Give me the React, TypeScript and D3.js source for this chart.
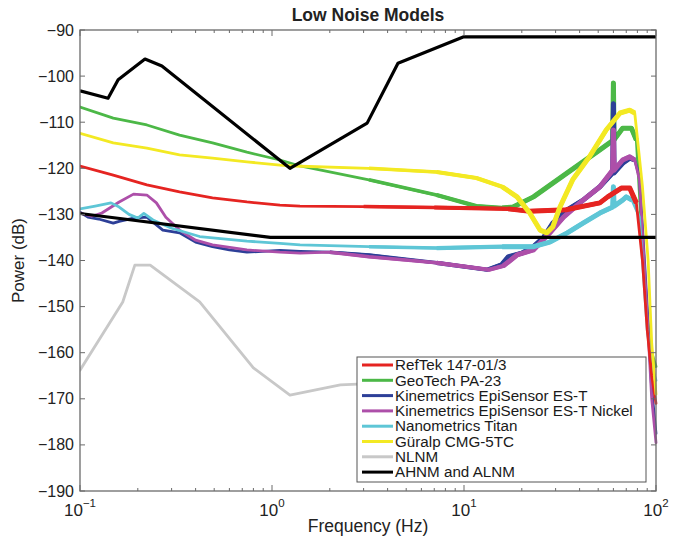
import * as d3 from "d3";

type Pt = [number, number]; // [frequency Hz, power dB]

const refTek: Pt[] = [
  [0.1, -119.5], [0.149, -121.5], [0.223, -123.6], [0.33, -125.1], [0.49, -126.4],
  [0.74, -127.3], [1.1, -128], [1.4, -128.2], [3, -128.3], [7, -128.5], [17, -128.8],
  [22, -129.3], [34, -129], [51, -127.5], [56, -126.2], [66, -124.3], [73, -124.3],
  [79, -127.5], [85, -140], [90, -155], [95, -165], [100, -171],
];

const geoTech: Pt[] = [
  [0.1, -106.7], [0.149, -109.1], [0.223, -110.6], [0.33, -112.8], [0.49, -114.5],
  [0.74, -116.5], [1.1, -118.2], [1.4, -119.5], [3.2, -122.5], [7.2, -125.8],
  [11.6, -128.2], [15.8, -128.6], [18, -128.4], [23, -126.2], [34.5, -121], [51, -116],
  [59.5, -114], [60, -101.5], [60.5, -113.8], [67, -111.3], [74.5, -111.3], [79, -113.9],
  [85, -137], [90, -152], [95, -160], [100, -163],
];

const episensor: Pt[] = [
  [0.1, -129.5], [0.11, -130.6], [0.125, -131], [0.149, -131.9], [0.16, -131.5],
  [0.19, -130.8], [0.223, -130.6], [0.27, -133.4], [0.33, -134], [0.4, -136], [0.49, -137],
  [0.6, -137.7], [0.74, -138.2], [1.1, -137.8], [1.4, -138], [2, -138.2], [3.2, -138.8],
  [7.2, -140.5], [13.2, -142], [15.8, -140.8], [17, -139.2], [20, -138.4], [23, -137],
  [26, -135], [29, -131.9], [34.5, -129], [41.7, -126.9], [51, -124], [59.5, -121],
  [60, -106], [60.5, -121], [67, -118.9], [73, -117.8], [77.5, -118.2], [82, -121.9],
  [85, -132.7], [90, -150], [95, -168], [100, -177.5],
];

const episensorNickel: Pt[] = [
  [0.1, -129.7], [0.115, -130.4], [0.13, -129.7], [0.16, -127.3], [0.19, -125.6],
  [0.223, -125.8], [0.25, -127.5], [0.28, -130.6], [0.33, -133.4], [0.4, -135.6],
  [0.49, -136.6], [0.74, -137.7], [1.1, -138.2], [1.4, -138.4], [2, -138.2], [3.2, -139.2],
  [7.2, -140.5], [13.5, -142], [16, -141.2], [18.9, -138.8], [23, -137.7], [28, -134],
  [33, -130.6], [41.7, -126.9], [51, -124], [59.5, -120.4], [60, -111.7], [60.5, -120.4],
  [67, -118.2], [73, -117.5], [77.5, -118.2], [82, -122.5], [85, -134], [90, -152],
  [95, -170], [100, -179.5],
];

const titan: Pt[] = [
  [0.1, -128.8], [0.12, -128.2], [0.145, -127.5], [0.16, -128.4], [0.18, -130],
  [0.2, -130.8], [0.215, -129.8], [0.24, -131.2], [0.3, -133], [0.42, -134.8],
  [0.74, -135.8], [1.1, -136.3], [1.4, -136.6], [3.2, -137], [7.2, -137.3], [15.8, -137],
  [23, -137], [28, -136], [34.5, -134], [41.7, -131.9], [51, -129.7], [59.5, -128.4],
  [60, -124], [60.5, -128.2], [67, -126.9], [70, -126.2], [75, -126.9], [82, -130.6],
  [85, -140], [90, -155], [95, -163], [100, -166],
];

const guralp: Pt[] = [
  [0.1, -112.4], [0.149, -114.5], [0.223, -115.6], [0.33, -117.1], [0.49, -117.8],
  [0.74, -118.6], [1.1, -119.3], [1.3, -119.5], [3.2, -120], [7.2, -120.8], [11.6, -122.1],
  [15.8, -124], [18.9, -126.2], [22, -129.7], [24.9, -133.4], [27, -134], [29, -132.7],
  [31.6, -128.4], [36.8, -122.5], [45, -117.5], [55, -111.7], [65, -108], [73, -107.4],
  [77.5, -108], [85, -124], [91, -140], [95, -158], [100, -169],
];

const nlnm: Pt[] = [
  [0.1, -163.8], [0.167, -149], [0.193, -141], [0.232, -141], [0.42, -149], [0.8, -163.3],
  [1.24, -169.2], [2.27, -167], [3.2, -166.7], [10, -168],
];

const ahnm: Pt[] = [
  [0.1, -103.2], [0.14, -104.8], [0.158, -100.8], [0.218, -96.3], [0.267, -97.8],
  [1.24, -120], [3.13, -110.2], [4.53, -97.2], [9.9, -91.5], [100, -91.5],
];

const alnm: Pt[] = [[0.1, -129.8], [0.98, -135], [100, -135]];

const yTicks = [-90, -100, -110, -120, -130, -140, -150, -160, -170, -180, -190];
const xDecades = [0.1, 1, 10, 100];
const xExponents = ["−1", "0", "1", "2"];

type Series = { name: string; color: string; data: Pt[]; noisy: boolean };

const legendOrder: Series[] = [
  { name: "RefTek 147-01/3", color: "#e52421", data: refTek, noisy: true },
  { name: "GeoTech PA-23", color: "#4cb847", data: geoTech, noisy: true },
  { name: "Kinemetrics EpiSensor ES-T", color: "#2d3f98", data: episensor, noisy: true },
  { name: "Kinemetrics EpiSensor ES-T Nickel", color: "#ad4fa9", data: episensorNickel, noisy: true },
  { name: "Nanometrics Titan", color: "#5ec6d6", data: titan, noisy: true },
  { name: "Güralp CMG-5TC", color: "#f3e923", data: guralp, noisy: true },
  { name: "NLNM", color: "#c8c8c8", data: nlnm, noisy: false },
  { name: "AHNM and ALNM", color: "#000000", data: ahnm, noisy: false },
];

// drawing order (back to front)
const drawOrder = [1, 2, 3, 4, 0, 5, 6];

// the measured traces get visibly "fatter" (noisier) towards high frequency
const bands: { from: number; width: number }[] = [
  { from: 2, width: 3.5 },
  { from: 6, width: 4.2 },
  { from: 15, width: 5 },
];

const W = 679;
const H = 537;
const m = { left: 80, right: 23, top: 30, bottom: 46 };
const FONT = "'Liberation Sans', Arial, Helvetica, sans-serif";

export default function App() {
  const x = d3.scaleLog().domain([0.1, 100]).range([m.left, W - m.right]);
  const y = d3.scaleLinear().domain([-190, -90]).range([H - m.bottom, m.top]);
  const line = d3
    .line<Pt>()
    .x((d) => x(d[0]))
    .y((d) => y(d[1]));

  const [x0, x1] = x.range();
  const [y0, y1] = [y(-190), y(-90)];

  const minorTicks: number[] = [];
  for (const dec of [0.1, 1, 10]) for (let k = 2; k <= 9; k++) minorTicks.push(dec * k);

  const legX = 357;
  const legY = 357;
  const legW = 289;
  const legH = 125;
  const rowH = 15.3;

  return (
    <svg
      width={W}
      height={H}
      style={{ position: "absolute", left: 0, top: 0, background: "#fff" }}
      fontFamily={FONT}
    >
      <defs>
        <clipPath id="plotClip">
          <rect x={x0} y={y1} width={x1 - x0 + 3} height={y0 - y1} />
        </clipPath>
      </defs>
      <text x={368} y={21} textAnchor="middle" fontSize={17.5} fontWeight="bold" fill="#222">
        Low Noise Models
      </text>

      <g clipPath="url(#plotClip)" fill="none" strokeLinejoin="round">
        {drawOrder.map((i) => {
          const s = legendOrder[i];
          return (
            <g key={s.name}>
              <path d={line(s.data)!} stroke={s.color} strokeWidth={2.8} strokeLinecap="round" />
              {s.noisy &&
                bands.map((b) => (
                  <path
                    key={b.from}
                    d={line(s.data.filter((d) => d[0] >= b.from && d[0] <= 80))!}
                    stroke={s.color}
                    strokeWidth={b.width}
                    strokeLinecap="butt"
                  />
                ))}
            </g>
          );
        })}
        <path d={line(ahnm)!} stroke="#000" strokeWidth={3.2} />
        <path d={line(alnm)!} stroke="#000" strokeWidth={3.2} />
      </g>

      {/* axes box */}
      <rect x={x0} y={y1} width={x1 - x0} height={y0 - y1} fill="none" stroke="#6a6a6a" strokeWidth={1.3} />

      {/* y ticks */}
      {yTicks.map((t) => (
        <g key={t}>
          <line x1={x0} x2={x0 + 5} y1={y(t)} y2={y(t)} stroke="#6a6a6a" strokeWidth={1} />
          <line x1={x1} x2={x1 - 5} y1={y(t)} y2={y(t)} stroke="#6a6a6a" strokeWidth={1} />
          <text x={x0 - 6} y={y(t) + 5.5} textAnchor="end" fontSize={16} fill="#222">
            {"−" + Math.abs(t)}
          </text>
        </g>
      ))}

      {/* x ticks */}
      {xDecades.map((t, i) => (
        <g key={t}>
          <line x1={x(t)} x2={x(t)} y1={y0} y2={y0 - 6} stroke="#6a6a6a" />
          <line x1={x(t)} x2={x(t)} y1={y1} y2={y1 + 6} stroke="#6a6a6a" />
          <text x={x(t)} y={516} textAnchor="middle" fontSize={17} fill="#222">
            10
            <tspan fontSize={11.5} dy={-9}>
              {xExponents[i]}
            </tspan>
          </text>
        </g>
      ))}
      {minorTicks.map((t) => (
        <g key={t}>
          <line x1={x(t)} x2={x(t)} y1={y0} y2={y0 - 3} stroke="#6a6a6a" />
          <line x1={x(t)} x2={x(t)} y1={y1} y2={y1 + 3} stroke="#6a6a6a" />
        </g>
      ))}

      <text x={368} y={532} textAnchor="middle" fontSize={17.5} fill="#222">
        Frequency (Hz)
      </text>
      <text
        transform={`translate(24,${(y0 + y1) / 2}) rotate(-90)`}
        textAnchor="middle"
        fontSize={17}
        fill="#222"
      >
        Power (dB)
      </text>

      {/* legend */}
      <g>
        <rect x={legX} y={legY} width={legW} height={legH} fill="#fff" stroke="#555" strokeWidth={1} />
        {legendOrder.map((s, i) => {
          const cy = legY + 8 + i * rowH;
          return (
            <g key={s.name}>
              <line x1={legX + 5} x2={legX + 36} y1={cy} y2={cy} stroke={s.color} strokeWidth={3} />
              <text x={legX + 38} y={cy + 5.2} fontSize={15.2} fill="#1a1a1a">
                {s.name}
              </text>
            </g>
          );
        })}
      </g>
    </svg>
  );
}
